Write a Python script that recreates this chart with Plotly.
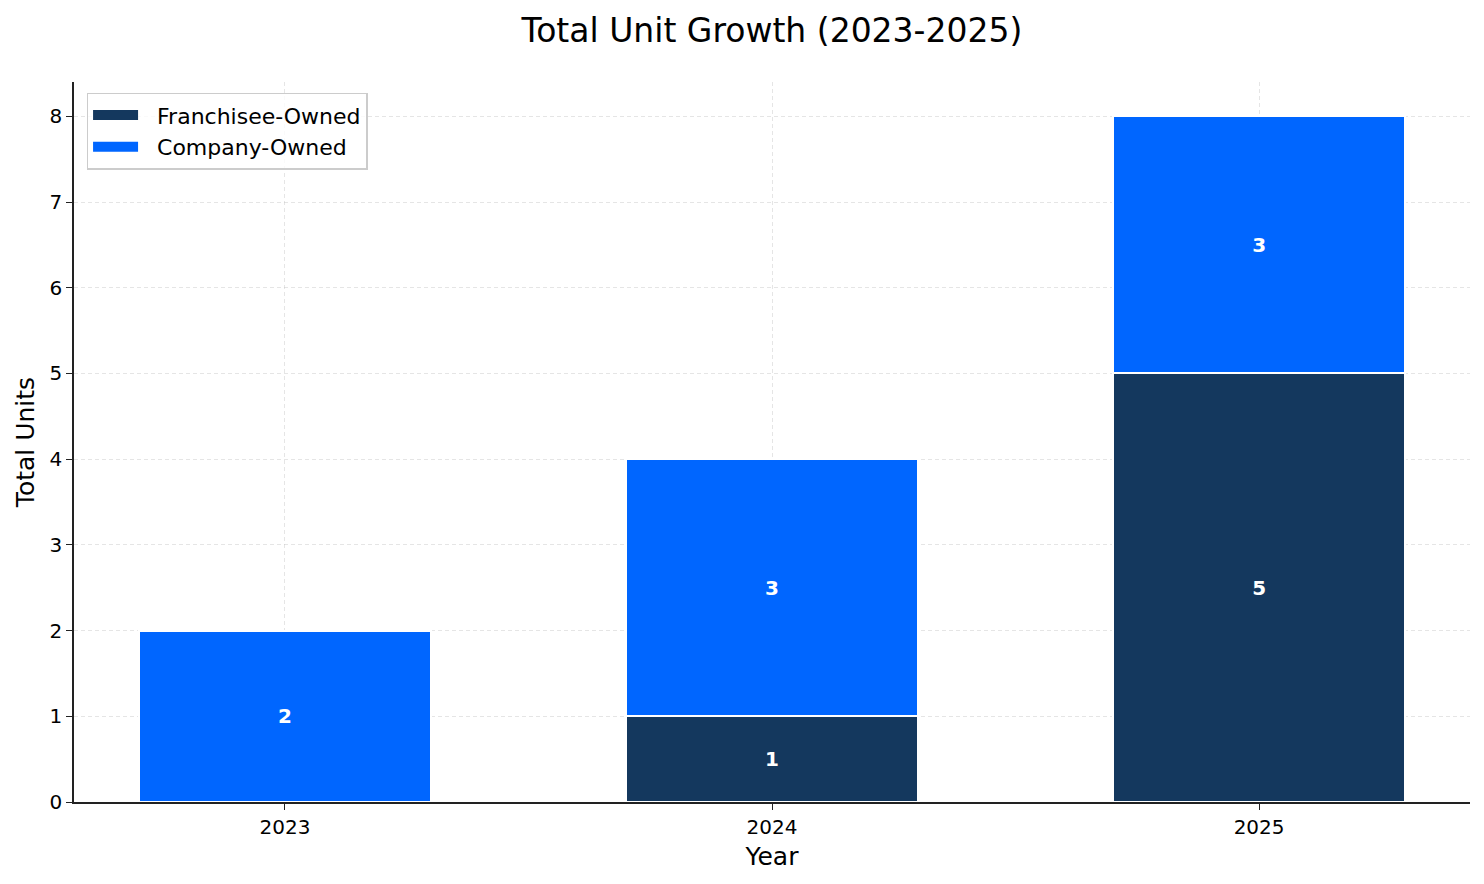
import plotly.graph_objects as go

# データ
years = ["2023", "2024", "2025"]
franchisee_owned = [0, 1, 5]
company_owned = [2, 3, 3]

navy = "#14385E"
blue = "#0066FF"


def labels(values):
    # 0 のときはラベルを出さない
    return [str(v) if v > 0 else "" for v in values]


fig = go.Figure()

for name, values, color in [
    ("Franchisee-Owned", franchisee_owned, navy),
    ("Company-Owned", company_owned, blue),
]:
    fig.add_trace(go.Bar(
        x=years,
        y=values,
        name=name,
        legendgroup=name,
        showlegend=False,
        marker=dict(color=color, line=dict(color="white", width=2)),
        text=labels(values),
        textposition="inside",
        insidetextanchor="middle",
        textangle=0,
        textfont=dict(color="white", size=20, family="DejaVu Sans"),
        texttemplate="<b>%{text}</b>",
        width=0.6,
    ))
    # 凡例用（横長の色見本にするため太い線で）
    fig.add_trace(go.Scatter(
        x=[None], y=[None],
        mode="lines",
        name="\u00a0\u00a0" + name,
        legendgroup=name,
        line=dict(color=color, width=14),
        hoverinfo="skip",
    ))

# ページの body に 8px の余白があるので、その分マージンを補正
fig.update_layout(
    barmode="stack",
    width=1484,
    height=884,
    margin=dict(l=66, r=22, t=74, b=90),
    plot_bgcolor="white",
    paper_bgcolor="white",
    font=dict(family="DejaVu Sans", size=20, color="black"),
    title=dict(text="Total Unit Growth (2023-2025)", xref="paper", x=0.5, xanchor="center",
               y=0.975, yanchor="middle", font=dict(size=33)),
    uniformtext=dict(mode="show", minsize=10),
    legend=dict(
        x=0.009, y=0.985, xanchor="left", yanchor="top",
        bordercolor="#CCCCCC", borderwidth=1.5, bgcolor="rgba(255,255,255,0.8)",
        font=dict(size=22),
        traceorder="normal",
        itemwidth=45,
        tracegroupgap=4,
    ),
)

fig.update_xaxes(
    title=dict(text="Year", font=dict(size=25), standoff=10),
    type="category",
    range=[-0.433, 2.433],
    showline=True, linecolor="#222222", linewidth=1.5,
    ticks="outside", ticklen=6, tickcolor="#222222",
    showgrid=True, gridcolor="rgba(190,190,190,0.4)", griddash="4px,3px", gridwidth=1,
    layer="above traces",
    tickfont=dict(size=20),
)

fig.update_yaxes(
    title=dict(text="Total Units", font=dict(size=25), standoff=8),
    range=[0, 8.4],
    dtick=1,
    showline=True, linecolor="#222222", linewidth=1.5,
    ticks="outside", ticklen=6, tickcolor="#222222",
    showgrid=True, gridcolor="rgba(190,190,190,0.4)", griddash="4px,3px", gridwidth=1,
    zeroline=False,
    layer="above traces",
    tickfont=dict(size=20),
)

fig.write_html("out.html")
